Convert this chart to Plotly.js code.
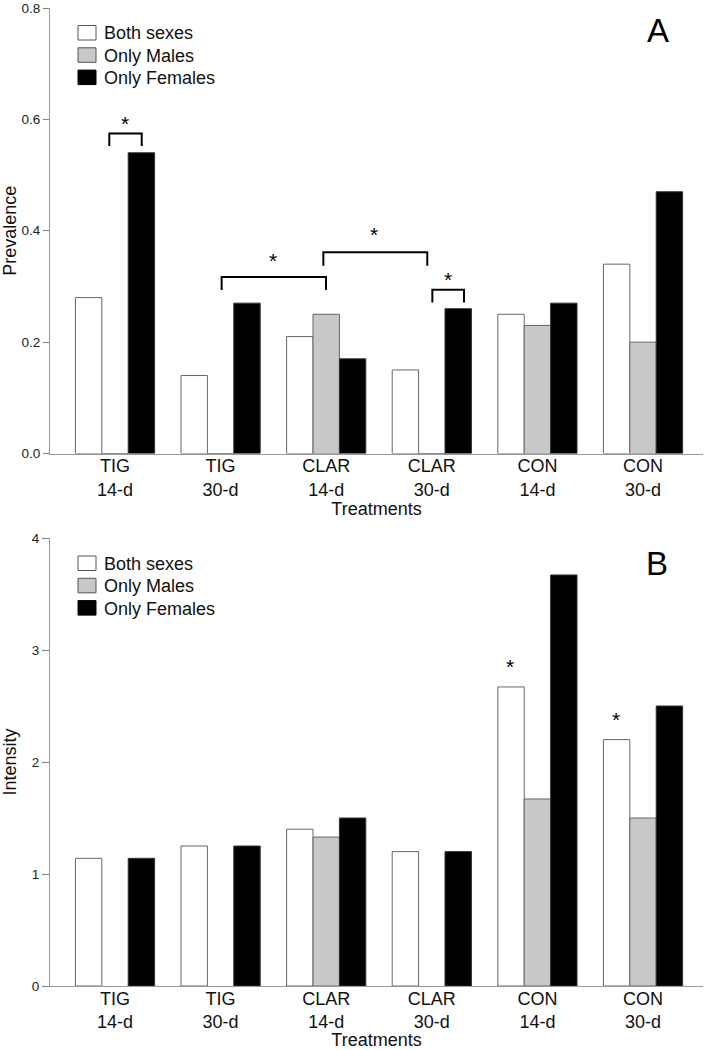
<!DOCTYPE html>
<html><head><meta charset="utf-8">
<script src="https://cdn.plot.ly/plotly-3.0.1.min.js"></script>
<style>html,body{margin:0;padding:0;background:#fff}#chart{width:707px;height:1050px}</style>
</head><body><div id="chart"></div>
<script>
// ---- data ----
const treatments = ['TIG<br>14-d','TIG<br>30-d','CLAR<br>14-d','CLAR<br>30-d','CON<br>14-d','CON<br>30-d'];
const seriesNames = ['Both sexes','Only Males','Only Females'];
const prevalenceBoth    = [0.28, 0.14, 0.21, 0.15, 0.25, 0.34];
const prevalenceMales   = [0,    0,    0.25, 0,    0.23, 0.20];
const prevalenceFemales = [0.54, 0.27, 0.17, 0.26, 0.27, 0.47];
const intensityBoth     = [1.14, 1.25, 1.40, 1.20, 2.67, 2.20];
const intensityMales    = [null, null, 1.33, null, 1.67, 1.50];
const intensityFemales  = [1.14, 1.25, 1.50, 1.20, 3.67, 2.50];
const prevalenceTicks = [0, 0.2, 0.4, 0.6, 0.8];
const intensityTicks  = [0, 1, 2, 3, 4];
const panelLabels = ['A', 'B'];
// significance brackets, panel A: [x left, x right, y top, y of leg ends]
const bracketsA = [
  [-0.054, 0.253, 0.5745, 0.552],
  [1.010, 1.998, 0.317, 0.2935],
  [1.973, 2.957, 0.3615, 0.337],
  [3.005, 3.305, 0.294, 0.271]
];
// asterisks: [x, y]
const starsA = [[0.095, 0.602], [1.493, 0.355], [2.453, 0.403], [3.15, 0.321]];
const starsB = [[3.74, 2.90], [4.74, 2.42]];

// ---- styles ----
const fills = ['#ffffff', '#c8c8c8', '#000000'];
const edges = ['#666666', '#666666', '#333333'];
const FONT = 'Liberation Sans, Arial, sans-serif';

// pixel -> paper helpers (plot area: x 50..703, y 8..986)
const PL = 50, PW = 653, PB = 986, PT = 8, PH = PB - PT;
const px = x => (x - PL) / PW;
const py = y => (PB - y) / PH;

const prevSeries = [prevalenceBoth, prevalenceMales, prevalenceFemales];
const intSeries = [intensityBoth, intensityMales, intensityFemales];

const traces = [];
prevSeries.forEach((vals, i) => traces.push({
  type: 'bar', x: treatments, y: vals, name: seriesNames[i],
  xaxis: 'x', yaxis: 'y', showlegend: false,
  marker: {color: fills[i], line: {color: edges[i], width: 1}}
}));
intSeries.forEach((vals, i) => traces.push({
  type: 'bar', x: treatments, y: vals, name: seriesNames[i],
  xaxis: 'x2', yaxis: 'y2', showlegend: false,
  marker: {color: fills[i], line: {color: edges[i], width: 1}}
}));

const shapes = bracketsA.map(b => ({
  type: 'path', xref: 'x', yref: 'y',
  path: `M${b[0]},${b[3]} L${b[0]},${b[2]} L${b[1]},${b[2]} L${b[1]},${b[3]}`,
  line: {color: '#000', width: 2}
}));

const annotations = [];
const starFont = {family: FONT, size: 21, color: '#000'};
starsA.forEach(s => annotations.push({xref: 'x', yref: 'y', x: s[0], y: s[1], text: '*',
  showarrow: false, font: starFont, xanchor: 'center', yanchor: 'middle', yshift: -5}));
starsB.forEach(s => annotations.push({xref: 'x2', yref: 'y2', x: s[0], y: s[1], text: '*',
  showarrow: false, font: starFont, xanchor: 'center', yanchor: 'middle', yshift: -5}));

// panel letters
const letterPos = [[658, 30], [657, 563]];
panelLabels.forEach((t, k) => annotations.push({xref: 'paper', yref: 'paper',
  x: px(letterPos[k][0]), y: py(letterPos[k][1]), xanchor: 'center', yanchor: 'middle',
  text: t, showarrow: false, font: {family: FONT, size: 33, color: '#000'}}));

// legends (one per panel), drawn as key boxes + labels
const legendTops = [25.5, 556];
const ROW = 22.3;
legendTops.forEach(top => {
  seriesNames.forEach((name, i) => {
    const y0 = top + i * ROW;
    shapes.push({type: 'rect', xref: 'paper', yref: 'paper',
      x0: px(78), x1: px(96), y0: py(y0 + 14.5), y1: py(y0),
      fillcolor: fills[i], line: {color: i === 2 ? '#000' : '#555', width: 1}});
    annotations.push({xref: 'paper', yref: 'paper', x: px(102), y: py(y0 + 8),
      xanchor: 'left', yanchor: 'middle', text: name, showarrow: false,
      font: {family: FONT, size: 18, color: '#111'}});
  });
});

const xBase = {
  range: [-0.6155, 5.568], showline: true, linecolor: '#999999', linewidth: 1,
  ticks: '', showgrid: false, zeroline: false, fixedrange: true, ticklabelstandoff: -4,
  tickfont: {family: FONT, size: 18, color: '#111'},
  title: {text: 'Treatments', font: {family: FONT, size: 18, color: '#111'}, standoff: 0}
};
const yBase = {
  showline: true, linecolor: '#999999', linewidth: 1, ticks: 'outside', tickcolor: '#808080',
  showgrid: false, zeroline: false, fixedrange: true, ticklabeloverflow: 'allow',
  tickfont: {family: FONT, size: 13.5, color: '#222'}
};

const layout = {
  width: 707, height: 1050,
  margin: {l: PL, r: 707 - PL - PW, t: PT, b: 1050 - PB},
  paper_bgcolor: '#fff', plot_bgcolor: '#fff',
  font: {family: FONT, color: '#111'},
  barmode: 'group', bargap: 0.25, bargroupgap: 0,
  xaxis: Object.assign({}, xBase, {anchor: 'y', domain: [0, 1]}),
  yaxis: Object.assign({}, yBase, {anchor: 'x', domain: [py(453.5), 1], range: [0, 0.8],
    tickvals: prevalenceTicks, tickformat: '.1f', ticklen: 6,
    title: {text: 'Prevalence', font: {family: FONT, size: 18, color: '#111'}, standoff: 5}}),
  xaxis2: Object.assign({}, xBase, {anchor: 'y2', domain: [0, 1]}),
  yaxis2: Object.assign({}, yBase, {anchor: 'x2', domain: [0, py(538)], range: [0, 4],
    tickvals: intensityTicks, ticklen: 7,
    title: {text: 'Intensity', font: {family: FONT, size: 18, color: '#111'}, standoff: 15}}),
  shapes: shapes,
  annotations: annotations,
  showlegend: false
};

Plotly.newPlot('chart', traces, layout, {displayModeBar: false, staticPlot: true});
</script></body></html>
